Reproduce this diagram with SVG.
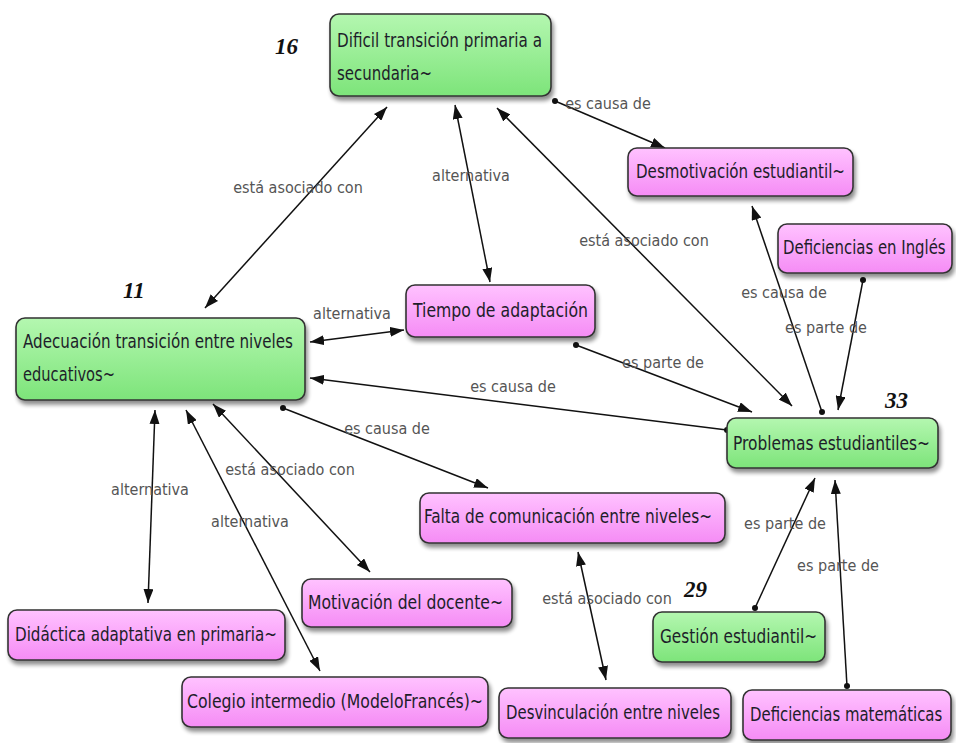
<svg xmlns="http://www.w3.org/2000/svg" width="956" height="743" viewBox="0 0 956 743">
<defs>
<linearGradient id="gG" x1="0" y1="0" x2="0" y2="1"><stop offset="0" stop-color="#b4f7b0"/><stop offset="1" stop-color="#7de47a"/></linearGradient>
<linearGradient id="gP" x1="0" y1="0" x2="0" y2="1"><stop offset="0" stop-color="#ffc2ff"/><stop offset="1" stop-color="#f58cf5"/></linearGradient>
<filter id="sh" x="-10%" y="-20%" width="130%" height="160%"><feGaussianBlur in="SourceAlpha" stdDeviation="2"/><feOffset dx="2" dy="4"/><feComponentTransfer><feFuncA type="linear" slope="0.45"/></feComponentTransfer><feMerge><feMergeNode/><feMergeNode in="SourceGraphic"/></feMerge></filter>
<marker id="ar" viewBox="0 0 14 10" refX="14" refY="5" markerWidth="14" markerHeight="10" markerUnits="userSpaceOnUse" orient="auto-start-reverse"><path d="M0,0 L14,5 L0,10 z" fill="#111"/></marker>
<marker id="dt" viewBox="0 0 6 6" refX="3" refY="3" markerWidth="6" markerHeight="6" markerUnits="userSpaceOnUse"><circle cx="3" cy="3" r="3" fill="#111"/></marker>
</defs>
<style>
.g{fill:url(#gG);stroke:#333;stroke-width:1.6;filter:url(#sh)}
.p{fill:url(#gP);stroke:#333;stroke-width:1.6;filter:url(#sh)}
.t{font-family:"DejaVu Sans Condensed","Liberation Sans",sans-serif;font-size:19.5px;fill:#1e1e2a}
.l{font-family:"DejaVu Sans Condensed","Liberation Sans",sans-serif;font-size:16px;fill:#555;text-anchor:middle}
.n{font-family:"Liberation Serif",serif;font-size:23px;font-weight:bold;font-style:italic;fill:#111}
.e{stroke:#111;stroke-width:1.5;fill:none}
.b{marker-start:url(#ar);marker-end:url(#ar)}
.d{marker-start:url(#dt);marker-end:url(#ar)}
</style>
<rect width="956" height="743" fill="#fff"/>
<g id="connectors">
<line class="e b" x1="387" y1="107" x2="205" y2="308"/>
<line class="e b" x1="455" y1="105" x2="490" y2="282"/>
<line class="e b" x1="497" y1="108" x2="792" y2="406"/>
<line class="e d" x1="555" y1="101" x2="665" y2="148"/>
<line class="e d" x1="822" y1="412" x2="752" y2="206"/>
<line class="e d" x1="863" y1="280" x2="838" y2="410"/>
<line class="e d" x1="576" y1="345" x2="752" y2="412"/>
<line class="e d" x1="727" y1="430" x2="310" y2="378"/>
<line class="e b" x1="310" y1="342" x2="404" y2="330"/>
<line class="e d" x1="283" y1="408" x2="488" y2="488"/>
<line class="e b" x1="213" y1="404" x2="370" y2="572"/>
<line class="e b" x1="155" y1="410" x2="148" y2="603"/>
<line class="e b" x1="186" y1="410" x2="320" y2="671"/>
<line class="e b" x1="578" y1="552" x2="606" y2="680"/>
<line class="e d" x1="755" y1="608" x2="815" y2="478"/>
<line class="e d" x1="847" y1="686" x2="835" y2="480"/>
<text class="l" x="298" y="193">está asociado con</text>
<text class="l" x="471" y="181">alternativa</text>
<text class="l" x="644" y="246">está asociado con</text>
<text class="l" x="608" y="109">es causa de</text>
<text class="l" x="784" y="298">es causa de</text>
<text class="l" x="826" y="333">es parte de</text>
<text class="l" x="663" y="368">es parte de</text>
<text class="l" x="513" y="392">es causa de</text>
<text class="l" x="352" y="319">alternativa</text>
<text class="l" x="387" y="434">es causa de</text>
<text class="l" x="290" y="475">está asociado con</text>
<text class="l" x="150" y="495">alternativa</text>
<text class="l" x="250" y="527">alternativa</text>
<text class="l" x="607" y="604">está asociado con</text>
<text class="l" x="785" y="529">es parte de</text>
<text class="l" x="838" y="571">es parte de</text>
</g>
<g id="n1"><rect class="g" x="330" y="14" width="221" height="82" rx="9"/><text class="t" x="337" y="47" textLength="205" lengthAdjust="spacingAndGlyphs">Dificil transición primaria a</text><text class="t" x="337" y="80" textLength="95" lengthAdjust="spacingAndGlyphs">secundaria~</text></g>
<g id="n2"><rect class="p" x="628" y="148" width="225" height="48" rx="9"/><text class="t" x="636" y="178" textLength="209" lengthAdjust="spacingAndGlyphs">Desmotivación estudiantil~</text></g>
<g id="n3"><rect class="p" x="778" y="224" width="174" height="49" rx="9"/><text class="t" transform="translate(783,254) scale(0.85,1)">Deficiencias en Inglés</text></g>
<g id="n4"><rect class="p" x="406" y="285" width="189" height="52" rx="9"/><text class="t" x="413" y="317" textLength="175" lengthAdjust="spacingAndGlyphs">Tiempo de adaptación</text></g>
<g id="n5"><rect class="g" x="16" y="318" width="289" height="82" rx="9"/><text class="t" x="23" y="348" textLength="270" lengthAdjust="spacingAndGlyphs">Adecuación transición entre niveles</text><text class="t" x="23" y="381" textLength="92" lengthAdjust="spacingAndGlyphs">educativos~</text></g>
<g id="n6"><rect class="g" x="727" y="418" width="211" height="50" rx="9"/><text class="t" x="733" y="450" textLength="197" lengthAdjust="spacingAndGlyphs">Problemas estudiantiles~</text></g>
<g id="n7"><rect class="p" x="420" y="493" width="305" height="50" rx="9"/><text class="t" x="424" y="523" textLength="288" lengthAdjust="spacingAndGlyphs">Falta de comunicación entre niveles~</text></g>
<g id="n8"><rect class="p" x="302" y="579" width="210" height="48" rx="9"/><text class="t" x="308" y="609" textLength="195" lengthAdjust="spacingAndGlyphs">Motivación del docente~</text></g>
<g id="n9"><rect class="p" x="8" y="610" width="277" height="50" rx="9"/><text class="t" x="15" y="641" textLength="262" lengthAdjust="spacingAndGlyphs">Didáctica adaptativa en primaria~</text></g>
<g id="n10"><rect class="p" x="182" y="677" width="306" height="50" rx="9"/><text class="t" x="187" y="708" textLength="296" lengthAdjust="spacingAndGlyphs">Colegio intermedio (ModeloFrancés)~</text></g>
<g id="n11"><rect class="p" x="499" y="688" width="232" height="50" rx="9"/><text class="t" x="506" y="719" textLength="214" lengthAdjust="spacingAndGlyphs">Desvinculación entre niveles</text></g>
<g id="n12"><rect class="g" x="653" y="612" width="172" height="50" rx="9"/><text class="t" x="660" y="643" textLength="157" lengthAdjust="spacingAndGlyphs">Gestión estudiantil~</text></g>
<g id="n13"><rect class="p" x="743" y="690" width="208" height="50" rx="9"/><text class="t" transform="translate(750,721) scale(0.85,1)">Deficiencias matemáticas</text></g>
<text class="n" x="275" y="54">16</text>
<text class="n" x="123" y="298">11</text>
<text class="n" x="885" y="408">33</text>
<text class="n" x="684" y="597">29</text>
</svg>
